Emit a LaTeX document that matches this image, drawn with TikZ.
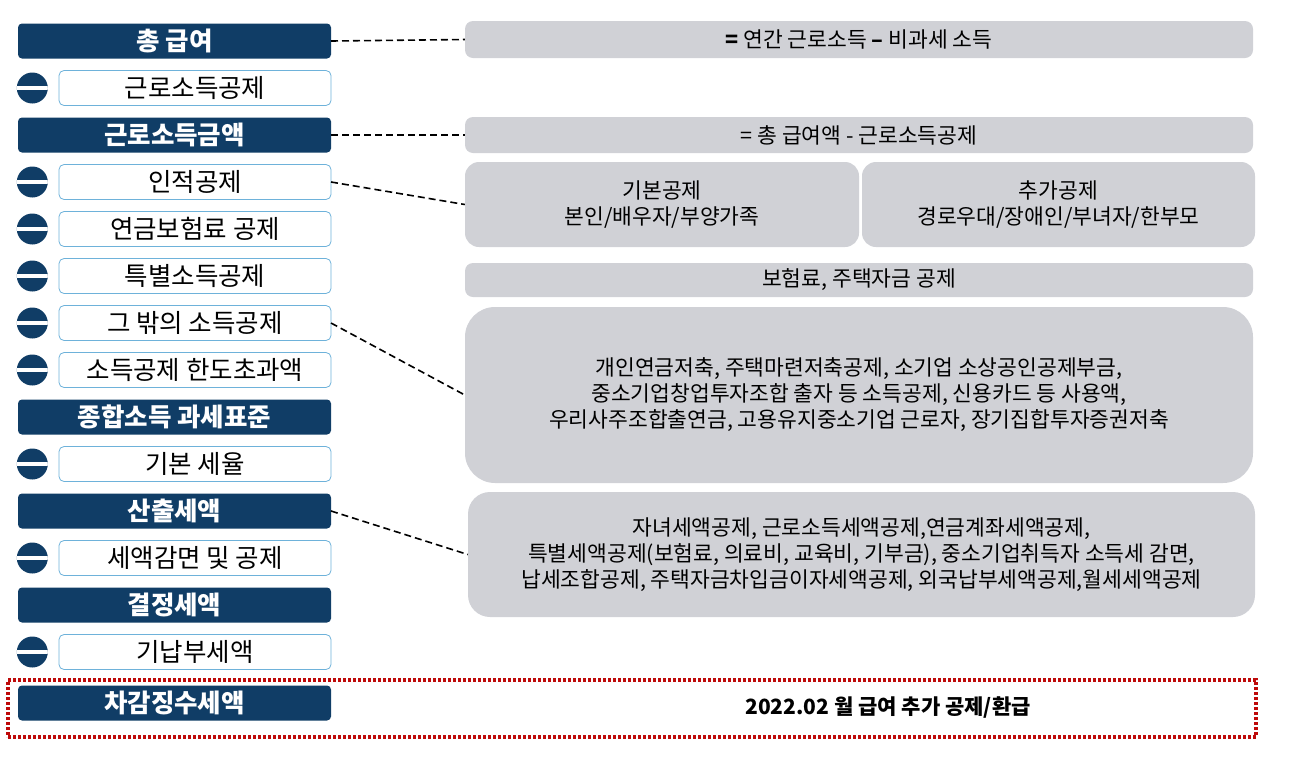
\documentclass[tikz,border=0pt]{standalone}
\usepackage{fontspec}
\setmainfont{Noto Sans CJK KR}
\usepackage{tikz}
\usetikzlibrary{positioning}
\definecolor{taxnavy}{RGB}{16,61,102}
\definecolor{taxsky}{RGB}{110,178,218}
\definecolor{taxgray}{RGB}{208,209,214}
\definecolor{taxred}{RGB}{190,10,10}

\begin{document}
\begin{tikzpicture}[
  x=1pt, y=-1pt,
  navybox/.style={
    rectangle, rounded corners=4pt, outer sep=0pt,
    fill=taxnavy, text=white,
    minimum width=313pt, minimum height=35pt,
    font=\fontsize{25.5}{28}\selectfont\bfseries
  },
  skybox/.style={
    rectangle, rounded corners=5pt, outer sep=0pt,
    draw=taxsky, line width=0.8pt, fill=white,
    minimum width=272pt, minimum height=35pt,
    font=\fontsize{25.5}{28}\selectfont
  },
  graybox/.style={
    rectangle, rounded corners=8pt, fill=taxgray,
    align=center, inner sep=0pt,
    font=\fontsize{21.5}{26}\selectfont
  },
  minus/.style={
    circle, fill=taxnavy, minimum size=31pt, inner sep=0pt,
    path picture={\fill[white]
      ([yshift=-1.8pt]path picture bounding box.west) rectangle
      ([yshift=1.8pt]path picture bounding box.east);}
  },
  link/.style={line width=1.6pt, dash pattern=on 7pt off 4pt}
]
\useasboundingbox (0,0) rectangle (1291,756);

% left column
\node[navybox] (gross) at (174.5,41) {총 급여};
\node[skybox, below=12pt of gross, xshift=20.5pt] (earnded) {근로소득공제};
\node[navybox, below=12pt of earnded, xshift=-20.5pt] (earned) {근로소득금액};
\node[skybox, below=12pt of earned, xshift=20.5pt] (personal) {인적공제};
\node[skybox, below=12pt of personal] (pension) {연금보험료 공제};
\node[skybox, below=12pt of pension] (special) {특별소득공제};
\node[skybox, below=12pt of special] (other) {그 밖의 소득공제};
\node[skybox, below=12pt of other] (excess) {소득공제 한도초과액};
\node[navybox, below=12pt of excess, xshift=-20.5pt] (base) {종합소득 과세표준};
\node[skybox, below=12pt of base, xshift=20.5pt] (rate) {기본 세율};
\node[navybox, below=12pt of rate, xshift=-20.5pt] (computed) {산출세액};
\node[skybox, below=12pt of computed, xshift=20.5pt] (credit) {세액감면 및 공제};
\node[navybox, below=12pt of credit, xshift=-20.5pt] (determined) {결정세액};
\node[skybox, below=12pt of determined, xshift=20.5pt] (prepaid) {기납부세액};
\node[navybox, below=16pt of prepaid, xshift=-20.5pt] (withheld) {차감징수세액};

\foreach \n in {earnded,personal,pension,special,other,excess,rate,credit,prepaid}
  \node[minus, left=11pt of \n] (m-\n) {};

% right column
\node[graybox, minimum width=788pt, minimum height=37pt] (grossnote)
  at (859,39.5) {\textbf{=} 연간 근로소득 \textbf{–} 비과세 소득};
\node[graybox, minimum width=788pt, minimum height=36pt] (earnednote)
  at (859,135) {= 총 급여액 - 근로소득공제};
\node[graybox, rounded corners=14pt, minimum width=394pt, minimum height=85pt]
  (basicnote) at (662,204.5) {기본공제\\본인/배우자/부양가족};
\node[graybox, rounded corners=14pt, minimum width=393pt, minimum height=85pt]
  (addnote) at (1058.5,204.5) {추가공제\\경로우대/장애인/부녀자/한부모};
\node[graybox, minimum width=788pt, minimum height=34pt] (specialnote)
  at (859,280) {보험료, 주택자금 공제};
\node[graybox, rounded corners=30pt, minimum width=788pt, minimum height=176pt]
  (othernote) at (859,395)
  {개인연금저축, 주택마련저축공제, 소기업 소상공인공제부금,\\
   중소기업창업투자조합 출자 등 소득공제, 신용카드 등 사용액,\\
   우리사주조합출연금, 고용유지중소기업 근로자, 장기집합투자증권저축};
\node[graybox, rounded corners=22pt, minimum width=787pt, minimum height=125pt]
  (creditnote) at (861.5,554.5)
  {자녀세액공제, 근로소득세액공제,연금계좌세액공제,\\
   특별세액공제(보험료, 의료비, 교육비, 기부금), 중소기업취득자 소득세 감면,\\
   납세조합공제, 주택자금차입금이자세액공제, 외국납부세액공제,월세세액공제};

% bottom frame
\node[draw=taxred, line width=3.5pt, dash pattern=on 3pt off 2pt,
      minimum width=1248pt, minimum height=57pt] (refund) at (632,708.5) {};
\node[font=\fontsize{21}{24}\selectfont\bfseries] (refundtxt) at (888,708)
  {2022.02 월 급여 추가 공제/환급};

\draw[link] (gross.east) -- (grossnote.west);
\draw[link] (earned.east) -- (earnednote.west);
\draw[link] (personal.east) -- (basicnote.west);
\draw[link] (other.east) -- (othernote.west);
\draw[link] (computed.east) -- (creditnote.west);
\end{tikzpicture}
\end{document}
